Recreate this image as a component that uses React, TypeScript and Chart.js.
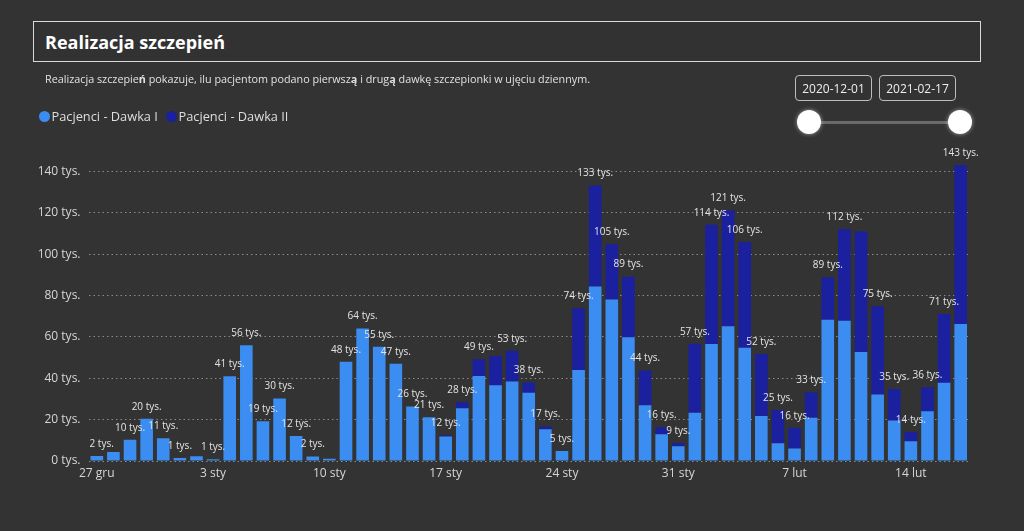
import React, { useEffect, useRef } from "react";
import { Chart, registerables } from "chart.js";

Chart.register(...registerables);

// ---- data (values in thousands of patients) ----
const categories = [
  "27 gru", "28 gru", "29 gru", "30 gru", "31 gru",
  "1 sty", "2 sty", "3 sty", "4 sty", "5 sty", "6 sty", "7 sty", "8 sty", "9 sty", "10 sty",
  "11 sty", "12 sty", "13 sty", "14 sty", "15 sty", "16 sty", "17 sty", "18 sty", "19 sty", "20 sty",
  "21 sty", "22 sty", "23 sty", "24 sty", "25 sty", "26 sty", "27 sty", "28 sty", "29 sty", "30 sty", "31 sty",
  "1 lut", "2 lut", "3 lut", "4 lut", "5 lut", "6 lut", "7 lut", "8 lut", "9 lut", "10 lut",
  "11 lut", "12 lut", "13 lut", "14 lut", "15 lut", "16 lut", "17 lut",
];

const doseOne = [
  2.4, 4.4, 10.3, 20.4, 11.0,
  1.4, 2.3, 0.8, 41.0, 56.0, 19.2, 30.2, 12.1, 2.2, 1.1,
  48.0, 64.0, 55.2, 47.0, 26.3, 21.2, 11.8, 25.5, 41.1, 36.6,
  38.4, 33.0, 15.3, 4.8, 44.0, 84.4, 78.0, 59.8, 27.0, 12.9, 7.1,
  23.3, 56.6, 65.1, 54.7, 21.7, 8.6, 6.1, 20.9, 68.3, 67.8,
  52.7, 32.2, 19.6, 9.6, 24.1, 37.8, 66.2,
];

const doseTwo = [
  0, 0, 0, 0, 0,
  0, 0, 0, 0, 0, 0, 0, 0, 0, 0,
  0, 0, 0, 0, 0, 0, 0.6, 2.9, 8.1, 14.2,
  14.9, 4.9, 1.4, 0, 29.8, 48.7, 26.8, 29.3, 16.8, 3.4, 1.6,
  33.4, 57.6, 56.1, 51.1, 30.0, 16.0, 10.0, 12.2, 20.5, 44.3,
  58.2, 42.6, 15.2, 4.4, 11.5, 33.2, 76.9,
];

const seriesNames = ["Pacjenci - Dawka I", "Pacjenci - Dawka II"];
const seriesColors = ["#3b8df2", "#1b209f"];

const xTickLabels = ["27 gru", "3 sty", "10 sty", "17 sty", "24 sty", "31 sty", "7 lut", "14 lut"];
const yTickValues = [0, 20, 40, 60, 80, 100, 120, 140];
const unlabeledBars = ["28 gru", "2 sty", "10 sty", "20 sty", "11 lut"];

const FONT = "'Open Sans', 'Noto Sans', sans-serif";

const totalLabels = {
  id: "totalLabels",
  afterDatasetsDraw(chart: any) {
    const { ctx, scales, chartArea } = chart;
    ctx.save();
    ctx.font = `10px ${FONT}`;
    ctx.fillStyle = "#e4e4e4";
    ctx.textAlign = "center";
    ctx.textBaseline = "middle";
    categories.forEach((c, i) => {
      if (unlabeledBars.includes(c)) return;
      const total = doseOne[i] + doseTwo[i];
      const text = `${Math.round(total)} tys.`;
      const w = ctx.measureText(text).width;
      let x = scales.x.getPixelForValue(i);
      if (x - w / 2 < chartArea.left + 1) x = chartArea.left + 1 + w / 2;
      const y = scales.y.getPixelForValue(total) - 12;
      ctx.fillText(text, x, y);
    });
    ctx.restore();
  },
};

function ChartCanvas() {
  const ref = useRef<HTMLCanvasElement | null>(null);
  useEffect(() => {
    if (!ref.current) return;
    const chart = new Chart(ref.current, {
      type: "bar",
      data: {
        labels: categories,
        datasets: [
          {
            label: seriesNames[0],
            data: doseOne,
            backgroundColor: seriesColors[0],
            categoryPercentage: 1,
            barPercentage: 0.76,
          },
          {
            label: seriesNames[1],
            data: doseTwo,
            backgroundColor: seriesColors[1],
            categoryPercentage: 1,
            barPercentage: 0.76,
          },
        ],
      },
      options: {
        animation: false,
        responsive: false,
        layout: { padding: { left: 0, right: 55, top: 161, bottom: 40 } },
        plugins: { legend: { display: false }, tooltip: { enabled: false } },
        scales: {
          x: {
            stacked: true,
            grid: { display: false, drawTicks: false },
            border: { display: false },
            ticks: {
              color: "#d6d6d6",
              font: { family: FONT, size: 12 },
              padding: 5,
              autoSkip: false,
              maxRotation: 0,
              minRotation: 0,
              callback: (_v: any, i: number) =>
                xTickLabels.includes(categories[i]) ? categories[i] : "",
            },
            afterFit: (s: any) => {
              s.height = 30;
            },
          },
          y: {
            stacked: true,
            min: 0,
            max: 145,
            grid: { color: "#8a8a8a", lineWidth: 1, drawTicks: false },
            border: { display: false, dash: [1.5, 3] },
            ticks: {
              padding: 8,
              color: "#d6d6d6",
              font: { family: FONT, size: 12 },
              callback: (v: any) => `${v} tys.`,
            },
            afterBuildTicks: (s: any) => {
              s.ticks = yTickValues.map((v) => ({ value: v }));
            },
            afterFit: (s: any) => {
              s.width = 88.5;
            },
          },
        },
      },
      plugins: [totalLabels],
    } as any);
    return () => chart.destroy();
  }, []);
  return (
    <canvas
      ref={ref}
      width={1024}
      height={531}
      style={{ position: "absolute", left: 0, top: 0, width: 1024, height: 531 }}
    />
  );
}

export default function App() {
  const abs = (s: React.CSSProperties): React.CSSProperties => ({ position: "absolute", ...s });
  return (
    <div
      style={{
        position: "fixed",
        left: 0,
        top: 0,
        width: 1024,
        height: 531,
        background: "#333333",
        fontFamily: FONT,
        overflow: "hidden",
      }}
    >
      <ChartCanvas />
      <div
        style={abs({
          left: 33,
          top: 21,
          width: 948,
          height: 41,
          boxSizing: "border-box",
          border: "1.5px solid #d9d9d9",
          background: "#323232",
          display: "flex",
          alignItems: "center",
          paddingLeft: 11,
          color: "#ffffff",
          fontWeight: 700,
          fontSize: 18,
        })}
      >
        Realizacja szczepień
      </div>
      <div style={abs({ left: 45, top: 71, fontSize: 10.8, color: "#e2e2e2", lineHeight: "16px", whiteSpace: "nowrap" })}>
        Realizacja szczepie<b>ń</b> pokazuje, ilu pacjentom podano pierwsz<b>ą</b> i drug<b>ą</b> dawkę szczepionki w ujęciu dziennym.
      </div>
      {seriesNames.map((name, i) => (
        <div
          key={name}
          style={abs({
            left: i === 0 ? 38.5 : 165.5,
            top: 108,
            display: "flex",
            alignItems: "center",
            fontSize: 12.8,
            color: "#dedede",
            lineHeight: "16px",
            whiteSpace: "nowrap",
          })}
        >
          <span
            style={{
              display: "inline-block",
              width: 11,
              height: 11,
              borderRadius: "50%",
              background: seriesColors[i],
              marginRight: 2,
            }}
          />
          {name}
        </div>
      ))}
      {["2020-12-01", "2021-02-17"].map((d, i) => (
        <div
          key={d}
          style={abs({
            left: i === 0 ? 795 : 879,
            top: 75,
            width: 77,
            height: 26,
            boxSizing: "border-box",
            border: "1px solid #bdbdbd",
            borderRadius: 4,
            color: "#eeeeee",
            fontSize: 12,
            display: "flex",
            alignItems: "center",
            justifyContent: "center",
          })}
        >
          {d}
        </div>
      ))}
      <div style={abs({ left: 809, top: 120.5, width: 151, height: 3, background: "#6a6a6a" })} />
      {[809, 960].map((cx) => (
        <div
          key={cx}
          style={abs({
            left: cx - 12,
            top: 110,
            width: 24,
            height: 24,
            borderRadius: "50%",
            background: "#ffffff",
            boxShadow: "0 0 4px rgba(255,255,255,0.55)",
          })}
        />
      ))}
    </div>
  );
}
